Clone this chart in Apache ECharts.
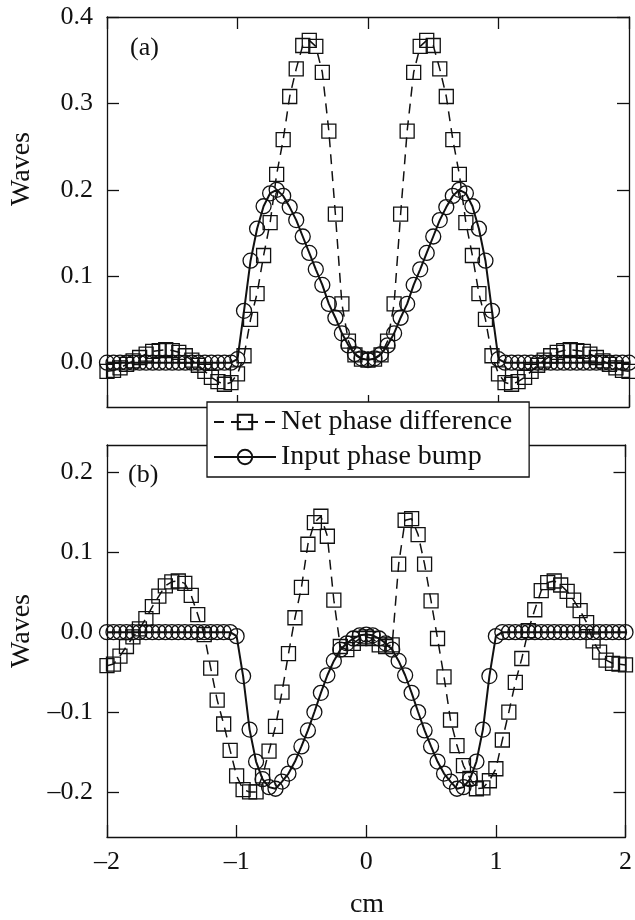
<!DOCTYPE html>
<html>
<head>
<meta charset="utf-8">
<script src="https://cdn.jsdelivr.net/npm/echarts@6/dist/echarts.min.js"></script>
<style>
  html, body { margin: 0; padding: 0; background: #fff; }
  #chart { width: 635px; height: 920px; }
</style>
</head>
<body>
<div id="chart"></div>
<script>
// positions along the profile (cm)
var xs = [-2, -1.95, -1.9, -1.85, -1.8, -1.75, -1.7, -1.65, -1.6, -1.55,
  -1.5, -1.45, -1.4, -1.35, -1.3, -1.25, -1.2, -1.15, -1.1, -1.05,
  -1, -0.95, -0.9, -0.85, -0.8, -0.75, -0.7, -0.65, -0.6, -0.55,
  -0.5, -0.45, -0.4, -0.35, -0.3, -0.25, -0.2, -0.15, -0.1, -0.05,
  0,
  0.05, 0.1, 0.15, 0.2, 0.25, 0.3, 0.35, 0.4, 0.45, 0.5,
  0.55, 0.6, 0.65, 0.7, 0.75, 0.8, 0.85, 0.9, 0.95, 1,
  1.05, 1.1, 1.15, 1.2, 1.25, 1.3, 1.35, 1.4, 1.45, 1.5,
  1.55, 1.6, 1.65, 1.7, 1.75, 1.8, 1.85, 1.9, 1.95, 2];

// panel (a)
var netA = [-0.010, -0.009, -0.006, -0.002, 0.002, 0.006, 0.010, 0.013, 0.014, 0.015,
  0.014, 0.012, 0.008, 0.003, -0.003, -0.010, -0.017, -0.022, -0.025, -0.023,
  -0.013, 0.008, 0.050, 0.080, 0.124, 0.162, 0.218, 0.258, 0.308, 0.340,
  0.367, 0.373, 0.366, 0.336, 0.268, 0.172, 0.068, 0.025, 0.009, 0.004,
  0.003,
  0.004, 0.009, 0.025, 0.068, 0.172, 0.268, 0.336, 0.366, 0.373, 0.367,
  0.340, 0.308, 0.258, 0.218, 0.162, 0.124, 0.080, 0.050, 0.008, -0.013,
  -0.023, -0.025, -0.022, -0.017, -0.010, -0.003, 0.003, 0.008, 0.012, 0.014,
  0.015, 0.014, 0.013, 0.010, 0.006, 0.002, -0.002, -0.006, -0.009, -0.010];

var inputA = [0, 0, 0, 0, 0, 0, 0, 0, 0, 0,
  0, 0, 0, 0, 0, 0, 0, 0, 0, 0,
  0.004, 0.060, 0.118, 0.155, 0.181, 0.196, 0.200, 0.193, 0.180, 0.165,
  0.146, 0.127, 0.108, 0.090, 0.068, 0.052, 0.034, 0.020, 0.010, 0.005,
  0.003,
  0.005, 0.010, 0.020, 0.034, 0.052, 0.068, 0.090, 0.108, 0.127, 0.146,
  0.165, 0.180, 0.193, 0.200, 0.196, 0.181, 0.155, 0.118, 0.060, 0.004,
  0, 0, 0, 0, 0, 0, 0, 0, 0, 0,
  0, 0, 0, 0, 0, 0, 0, 0, 0, 0];

// panel (b)
var netB = [-0.042, -0.040, -0.030, -0.018, -0.006, 0.004, 0.017, 0.032, 0.045, 0.058,
  0.063, 0.064, 0.061, 0.046, 0.022, -0.003, -0.045, -0.085, -0.115, -0.148,
  -0.180, -0.197, -0.200, -0.200, -0.180, -0.149, -0.118, -0.075, -0.027, 0.018,
  0.056, 0.110, 0.137, 0.145, 0.120, 0.040, -0.018, -0.022, -0.014, -0.008,
  -0.006,
  -0.008, -0.016, -0.018, -0.016, 0.085, 0.140, 0.142, 0.122, 0.085, 0.039,
  -0.008, -0.056, -0.110, -0.142, -0.167, -0.183, -0.196, -0.195, -0.186, -0.171,
  -0.135, -0.100, -0.063, -0.033, 0.002, 0.028, 0.052, 0.062, 0.064, 0.059,
  0.051, 0.040, 0.027, 0.012, -0.011, -0.025, -0.035, -0.039, -0.040, -0.041];

var inputB = [0, 0, 0, 0, 0, 0, 0, 0, 0, 0,
  0, 0, 0, 0, 0, 0, 0, 0, 0, 0,
  -0.005, -0.055, -0.122, -0.162, -0.184, -0.194, -0.196, -0.187, -0.177, -0.162,
  -0.143, -0.123, -0.100, -0.076, -0.054, -0.036, -0.022, -0.014, -0.008, -0.004,
  -0.003,
  -0.004, -0.008, -0.014, -0.022, -0.036, -0.054, -0.076, -0.100, -0.123, -0.143,
  -0.162, -0.177, -0.187, -0.196, -0.194, -0.184, -0.162, -0.122, -0.055, -0.005,
  0, 0, 0, 0, 0, 0, 0, 0, 0, 0,
  0, 0, 0, 0, 0, 0, 0, 0, 0, 0];

// tick values
var xTicks = [-2, -1, 0, 1, 2];
var yTicksA = [0, 0.1, 0.2, 0.3, 0.4];
var yTicksB = [-0.2, -0.1, 0, 0.1, 0.2];

var FONT = 'Liberation Serif';
var INK = '#111';

function pairs(ys) {
  return xs.map(function(x, i) { return [x, ys[i]]; });
}
function yLabel(v) {
  return (v < -1e-9 ? '\u2013' : '') + Math.abs(v).toFixed(1);
}
function xLabel(v) {
  return (v < 0 ? '\u2013' : '') + Math.abs(v);
}

// one side of the framed box
function xAx(grid, pos, labels) {
  return {
    type: 'value', gridIndex: grid, position: pos, min: -2, max: 2,
    axisLine: { show: true, onZero: false, lineStyle: { color: INK, width: 1.3 } },
    axisTick: { show: true, inside: true, length: 12, customValues: xTicks,
      lineStyle: { color: INK, width: 1.3 } },
    axisLabel: { show: labels, customValues: xTicks, formatter: xLabel, margin: 12,
      fontFamily: FONT, fontSize: 26, color: INK },
    splitLine: { show: false }
  };
}
function yAx(grid, pos, min, max, ticks, labels) {
  return {
    type: 'value', gridIndex: grid, position: pos, min: min, max: max,
    axisLine: { show: true, onZero: false, lineStyle: { color: INK, width: 1.3 } },
    axisTick: { show: true, inside: true, length: 12, customValues: ticks,
      lineStyle: { color: INK, width: 1.3 } },
    axisLabel: { show: labels, customValues: ticks, formatter: yLabel, margin: 14,
      fontFamily: FONT, fontSize: 26, color: INK },
    splitLine: { show: false }
  };
}

var netStyle = {
  type: 'line', symbol: 'rect', symbolSize: 14, showAllSymbol: true,
  lineStyle: { color: INK, width: 1.5, type: [10, 7] },
  itemStyle: { color: 'rgba(0,0,0,0)', borderColor: INK, borderWidth: 1.3 }
};
var inputStyle = {
  type: 'line', symbol: 'circle', symbolSize: 15, showAllSymbol: true,
  lineStyle: { color: INK, width: 2 },
  itemStyle: { color: 'rgba(0,0,0,0)', borderColor: INK, borderWidth: 1.3 }
};

var chart = echarts.init(document.getElementById('chart'), null, { renderer: 'canvas' });

chart.setOption({
  animation: false,
  backgroundColor: '#fff',
  grid: [
    { left: 107, right: 6, top: 17, height: 390 },  // (a)
    { left: 107, right: 6, top: 445, height: 392 }  // (b)
  ],
  xAxis: [xAx(0, 'bottom', false), xAx(0, 'top', false), xAx(1, 'bottom', true), xAx(1, 'top', false)],
  yAxis: [
    yAx(0, 'left', -0.0513, 0.4, yTicksA, true), yAx(0, 'right', -0.0513, 0.4, yTicksA, false),
    yAx(1, 'left', -0.2564, 0.2342, yTicksB, true), yAx(1, 'right', -0.2564, 0.2342, yTicksB, false)
  ],
  legend: {
    left: 207, top: 402, orient: 'vertical',
    itemWidth: 62, itemHeight: 18, itemGap: 5,
    padding: [5, 17, 5, 6],
    backgroundColor: '#fff', borderColor: INK, borderWidth: 1.3, borderRadius: 0,
    textStyle: { fontFamily: FONT, fontSize: 28, color: INK, lineHeight: 30 },
    data: ['Net phase difference', 'Input phase bump']
  },
  graphic: [
    { type: 'text', x: 22, y: 169, rotation: Math.PI / 2,
      style: { text: 'Waves', x: 0, y: 0, textAlign: 'center', textVerticalAlign: 'middle',
        font: '28px "Liberation Serif"', fill: INK } },
    { type: 'text', x: 22, y: 631, rotation: Math.PI / 2,
      style: { text: 'Waves', x: 0, y: 0, textAlign: 'center', textVerticalAlign: 'middle',
        font: '28px "Liberation Serif"', fill: INK } },
    { type: 'text', x: 367, y: 905,
      style: { text: 'cm', textAlign: 'center', textVerticalAlign: 'middle',
        font: '28px "Liberation Serif"', fill: INK } },
    { type: 'text', x: 130, y: 48,
      style: { text: '(a)', textAlign: 'left', textVerticalAlign: 'middle',
        font: '26px "Liberation Serif"', fill: INK } },
    { type: 'text', x: 128, y: 475,
      style: { text: '(b)', textAlign: 'left', textVerticalAlign: 'middle',
        font: '26px "Liberation Serif"', fill: INK } }
  ],
  series: [
    Object.assign({ name: 'Net phase difference', xAxisIndex: 0, yAxisIndex: 0, data: pairs(netA) }, netStyle),
    Object.assign({ name: 'Input phase bump', xAxisIndex: 0, yAxisIndex: 0, data: pairs(inputA) }, inputStyle),
    Object.assign({ name: 'Net phase difference', xAxisIndex: 2, yAxisIndex: 2, data: pairs(netB) }, netStyle),
    Object.assign({ name: 'Input phase bump', xAxisIndex: 2, yAxisIndex: 2, data: pairs(inputB) }, inputStyle)
  ]
});
</script>
</body>
</html>
